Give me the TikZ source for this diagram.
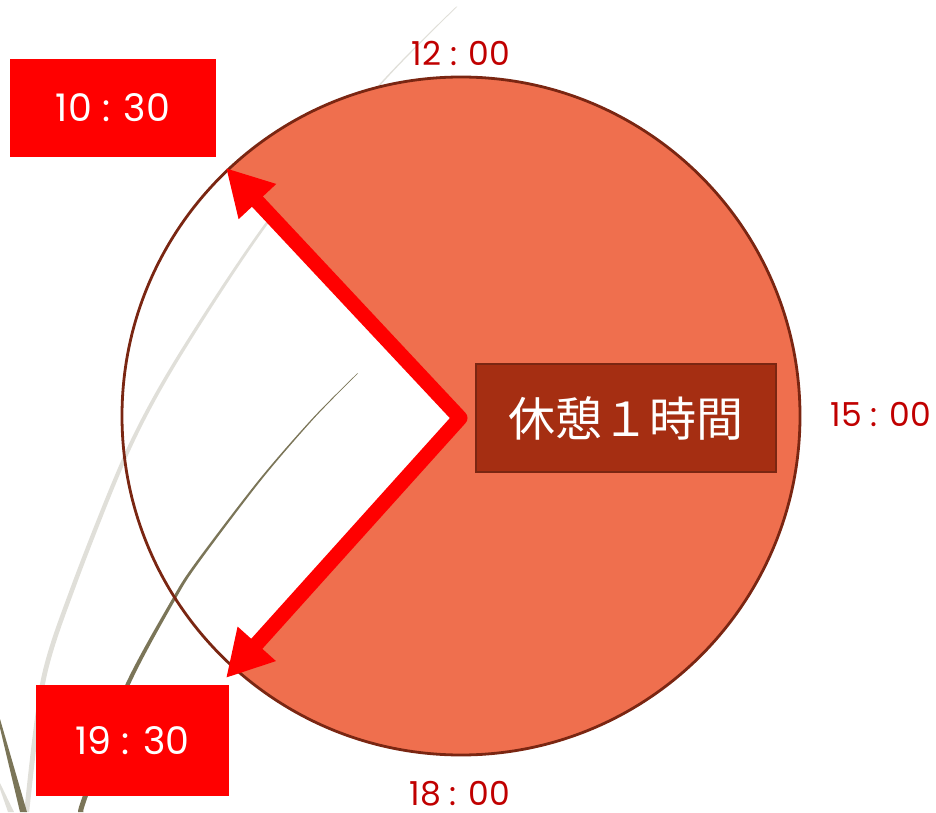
\documentclass[tikz,border=0pt]{standalone}
\usepackage{fontspec}
\setmainfont{Poppins}
\newfontfamily\cjk{Noto Sans CJK JP}
\usetikzlibrary{arrows.meta,calc}
\definecolor{coral}{HTML}{EF6F4E}
\definecolor{rim}{HTML}{7A2612}
\definecolor{boxbrown}{HTML}{A52E12}
\definecolor{labred}{HTML}{C00000}
\definecolor{lightgray}{HTML}{E0DFD9}
\definecolor{olive}{HTML}{7B7558}
\tikzset{
  timelabel/.style={text=labred, font=\fontsize{33}{35}\selectfont, inner sep=0pt, anchor=base},
  redbox/.style={fill=red, text=white, font=\fontsize{38}{40}\selectfont, inner sep=0pt},
  breakbox/.style={fill=boxbrown, draw=rim, line width=2pt, text=white, font=\cjk\fontsize{47}{49}\selectfont, inner sep=0pt},
  hand/.style={draw=red, line width=15pt, line join=round,
    {Triangle[length=46pt,width=48pt]}-{Triangle[length=46pt,width=48pt]}}
}
\begin{document}
\begin{tikzpicture}[x=1pt,y=1pt]
\useasboundingbox (0,0) rectangle (936,812);
% background decorative curves
\fill[lightgray] plot[smooth] coordinates {(456.1,805.3) (375.7,723.7) (265.1,588.7) (174.7,452) (124.5,358.7) (70.9,225.3) (40.8,132) (24.2,0)}
  -- plot[smooth] coordinates {(29.2,0) (45.8,132) (75.7,225.3) (128.9,358.7) (178.7,452) (268.3,588.7) (377.7,723.7) (457.3,805.3)} -- cycle;
\fill[olive] plot[smooth] coordinates {(357.3,438.7) (312.5,393.7) (258.8,332) (195.1,248.7) (171.5,212) (124.4,125.3) (82.4,15) (78.4,0)}
  -- plot[smooth] coordinates {(83.6,0) (87.6,15) (129,125.3) (175.1,212) (198.3,248.7) (261.2,332) (314.1,393.7) (358.1,438.7)} -- cycle;
\fill[olive] (0,93) -- (0,84) -- (20,0) -- (27,0) -- cycle;
\fill[lightgray] (0,29) -- (0,23) -- (8,0) -- (14,0) -- cycle;
% clock
\coordinate (c) at (461,396);
\coordinate (v) at (460,394);
\coordinate (t1) at (226,644);
\coordinate (t2) at (226,134);
\begin{scope}
  \clip (c) circle[radius=339];
  \fill[coral] (v) -- ($(v)!2!(t1)$) -- (1000,1100) -- (1000,-300) -- ($(v)!2!(t2)$) -- cycle;
\end{scope}
\draw[rim, line width=2.8pt] (c) circle[radius=339];
% hands
\draw[hand] (t1) -- (v) -- (t2);
% labels
\node[timelabel] (l12) at (461,746) {12 : 00};
\node[timelabel] (l15) at (881,385) {15 : 00};
\node[timelabel] (l18) at (460,7) {18 : 00};
\node[redbox, minimum width=206pt, minimum height=98pt] (b1030) at (113,704) {10 : 30};
\node[redbox, minimum width=193pt, minimum height=111pt] (b1930) at (132.5,71.5) {19 : 30};
\node[breakbox, minimum width=300pt, minimum height=108pt] (brk) at (626,394) {休憩１時間};
\end{tikzpicture}
\end{document}
